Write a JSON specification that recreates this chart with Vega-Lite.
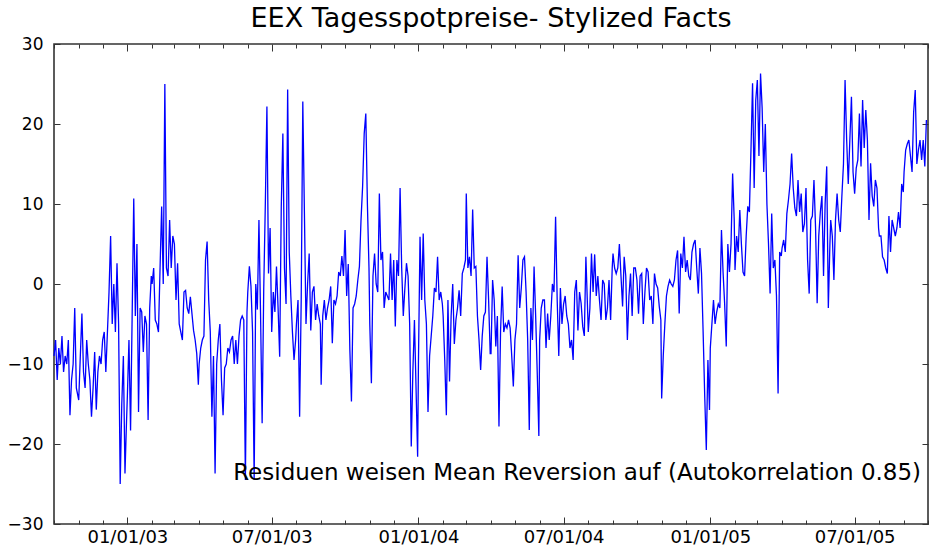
{
"$schema": "https://vega.github.io/schema/vega-lite/v6.json",
"width": 874, "height": 480,
"autosize": {"type": "none"},
"padding": {"left": 54, "top": 44, "right": 2, "bottom": 22},
"background": "white",
"title": {"text": "EEX Tagesspotpreise- Stylized Facts", "font": "DejaVu Sans", "fontSize": 27, "fontWeight": "normal", "color": "black", "offset": 2, "anchor": "middle"},
"config": {"view": {"stroke": "#333333", "strokeWidth": 1.6}, "axis": {"domain": false, "grid": false, "labelFont": "DejaVu Sans", "labelFontSize": 17, "labelColor": "black", "tickColor": "#333333", "tickWidth": 1}},
"datasets": {
"note": [{"d": "2004-07-18", "v": -23.6, "t": "Residuen weisen Mean Reversion auf (Autokorrelation 0.85)"}],
"s": [
{"d":"2002-10-01","v":-9},{"d":"2002-10-03","v":-7},{"d":"2002-10-05","v":-12},{"d":"2002-10-07","v":-8},{"d":"2002-10-09","v":-10},{"d":"2002-10-11","v":-6.5},{"d":"2002-10-13","v":-11},{"d":"2002-10-15","v":-9},{"d":"2002-10-17","v":-10},{"d":"2002-10-19","v":-7},{"d":"2002-10-21","v":-16.4},{"d":"2002-10-23","v":-12},{"d":"2002-10-25","v":-10},{"d":"2002-10-27","v":-3},{"d":"2002-10-29","v":-13},{"d":"2002-10-31","v":-14},
{"d":"2002-11-01","v":-14.5},{"d":"2002-11-03","v":-9},{"d":"2002-11-05","v":-3.7},{"d":"2002-11-07","v":-11},{"d":"2002-11-09","v":-13},{"d":"2002-11-11","v":-7},{"d":"2002-11-13","v":-10},{"d":"2002-11-15","v":-12},{"d":"2002-11-17","v":-16.6},{"d":"2002-11-19","v":-13},{"d":"2002-11-21","v":-8.5},{"d":"2002-11-23","v":-15.7},{"d":"2002-11-25","v":-11},{"d":"2002-11-27","v":-9},{"d":"2002-11-29","v":-10},
{"d":"2002-12-01","v":-7},{"d":"2002-12-03","v":-6},{"d":"2002-12-05","v":-11},{"d":"2002-12-07","v":-6},{"d":"2002-12-09","v":-1},{"d":"2002-12-11","v":6},{"d":"2002-12-13","v":-5},{"d":"2002-12-15","v":0},{"d":"2002-12-17","v":-6},{"d":"2002-12-19","v":2.6},{"d":"2002-12-21","v":-5},{"d":"2002-12-23","v":-25},{"d":"2002-12-25","v":-15},{"d":"2002-12-27","v":-9},{"d":"2002-12-29","v":-23.7},{"d":"2002-12-31","v":-17},
{"d":"2003-01-01","v":-14},{"d":"2003-01-03","v":-7},{"d":"2003-01-05","v":-18.3},{"d":"2003-01-07","v":-4},{"d":"2003-01-09","v":10.7},{"d":"2003-01-11","v":-4},{"d":"2003-01-13","v":5},{"d":"2003-01-15","v":-16},{"d":"2003-01-17","v":-3},{"d":"2003-01-19","v":-3.5},{"d":"2003-01-21","v":-8.5},{"d":"2003-01-23","v":-4},{"d":"2003-01-25","v":-5},{"d":"2003-01-27","v":-17},{"d":"2003-01-29","v":-3},{"d":"2003-01-31","v":1},
{"d":"2003-02-01","v":0},{"d":"2003-02-03","v":2},{"d":"2003-02-05","v":-4.5},{"d":"2003-02-07","v":-5},{"d":"2003-02-09","v":-6},{"d":"2003-02-11","v":2},{"d":"2003-02-13","v":9.7},{"d":"2003-02-15","v":0},{"d":"2003-02-17","v":25},{"d":"2003-02-19","v":2},{"d":"2003-02-21","v":1},{"d":"2003-02-23","v":8},{"d":"2003-02-25","v":2},{"d":"2003-02-27","v":6},
{"d":"2003-03-01","v":5},{"d":"2003-03-03","v":-2},{"d":"2003-03-05","v":2.6},{"d":"2003-03-07","v":-5},{"d":"2003-03-09","v":-6},{"d":"2003-03-11","v":-7},{"d":"2003-03-13","v":-1},{"d":"2003-03-15","v":-0.8},{"d":"2003-03-17","v":-3},{"d":"2003-03-19","v":-3.7},{"d":"2003-03-21","v":-1.6},{"d":"2003-03-23","v":-3.7},{"d":"2003-03-25","v":-5.8},{"d":"2003-03-27","v":-7},{"d":"2003-03-29","v":-8.7},{"d":"2003-03-31","v":-12.6},
{"d":"2003-04-01","v":-10},{"d":"2003-04-03","v":-8},{"d":"2003-04-05","v":-7},{"d":"2003-04-07","v":-6.5},{"d":"2003-04-09","v":3},{"d":"2003-04-11","v":5.3},{"d":"2003-04-13","v":-2},{"d":"2003-04-15","v":-6},{"d":"2003-04-17","v":-16.6},{"d":"2003-04-19","v":-9},{"d":"2003-04-21","v":-23.7},{"d":"2003-04-23","v":-10},{"d":"2003-04-25","v":-7},{"d":"2003-04-27","v":-5},{"d":"2003-04-29","v":-12},
{"d":"2003-05-01","v":-16.4},{"d":"2003-05-03","v":-10.5},{"d":"2003-05-05","v":-10},{"d":"2003-05-07","v":-8},{"d":"2003-05-09","v":-8.5},{"d":"2003-05-11","v":-7},{"d":"2003-05-13","v":-6.5},{"d":"2003-05-15","v":-10},{"d":"2003-05-17","v":-7},{"d":"2003-05-19","v":-10},{"d":"2003-05-21","v":-6.5},{"d":"2003-05-23","v":-4.5},{"d":"2003-05-25","v":-4},{"d":"2003-05-27","v":-4.5},{"d":"2003-05-29","v":-24.5},{"d":"2003-05-31","v":-3.5},
{"d":"2003-06-01","v":-1},{"d":"2003-06-03","v":2.2},{"d":"2003-06-05","v":-0.3},{"d":"2003-06-07","v":-6},{"d":"2003-06-09","v":-24.5},{"d":"2003-06-11","v":0},{"d":"2003-06-13","v":-3.2},{"d":"2003-06-15","v":8},{"d":"2003-06-17","v":-3.7},{"d":"2003-06-19","v":-17.4},{"d":"2003-06-21","v":-0.7},{"d":"2003-06-23","v":10},{"d":"2003-06-25","v":22.2},{"d":"2003-06-27","v":1.3},{"d":"2003-06-29","v":7},
{"d":"2003-07-01","v":-6},{"d":"2003-07-03","v":-1},{"d":"2003-07-05","v":-3.5},{"d":"2003-07-07","v":2.2},{"d":"2003-07-09","v":-3},{"d":"2003-07-11","v":-9.1},{"d":"2003-07-13","v":9.7},{"d":"2003-07-15","v":18.8},{"d":"2003-07-17","v":2},{"d":"2003-07-19","v":-2.5},{"d":"2003-07-21","v":24.3},{"d":"2003-07-23","v":4},{"d":"2003-07-25","v":-1.5},{"d":"2003-07-27","v":-6},{"d":"2003-07-29","v":-9.5},{"d":"2003-07-31","v":-7},
{"d":"2003-08-01","v":-5},{"d":"2003-08-03","v":-2},{"d":"2003-08-05","v":-16.6},{"d":"2003-08-07","v":-2},{"d":"2003-08-09","v":22.8},{"d":"2003-08-11","v":9},{"d":"2003-08-13","v":-5},{"d":"2003-08-15","v":0},{"d":"2003-08-17","v":3.8},{"d":"2003-08-19","v":-5.8},{"d":"2003-08-21","v":-1},{"d":"2003-08-23","v":-0.3},{"d":"2003-08-25","v":-4.5},{"d":"2003-08-27","v":-2.5},{"d":"2003-08-29","v":-4},{"d":"2003-08-31","v":-5},
{"d":"2003-09-01","v":-12.6},{"d":"2003-09-03","v":-4},{"d":"2003-09-05","v":-2},{"d":"2003-09-07","v":-4.5},{"d":"2003-09-09","v":-3},{"d":"2003-09-11","v":-2},{"d":"2003-09-13","v":-0.3},{"d":"2003-09-15","v":-7.4},{"d":"2003-09-17","v":-2},{"d":"2003-09-19","v":-2.5},{"d":"2003-09-21","v":-1.5},{"d":"2003-09-23","v":1.5},{"d":"2003-09-25","v":1},{"d":"2003-09-27","v":3.5},{"d":"2003-09-29","v":1},
{"d":"2003-10-01","v":6.75},{"d":"2003-10-03","v":-1.5},{"d":"2003-10-05","v":2.5},{"d":"2003-10-07","v":-8.2},{"d":"2003-10-09","v":-14.7},{"d":"2003-10-11","v":-3},{"d":"2003-10-13","v":-2.5},{"d":"2003-10-15","v":-1.5},{"d":"2003-10-17","v":0.5},{"d":"2003-10-19","v":2.2},{"d":"2003-10-21","v":8},{"d":"2003-10-23","v":12.2},{"d":"2003-10-25","v":18.8},{"d":"2003-10-27","v":21.3},{"d":"2003-10-29","v":10},{"d":"2003-10-31","v":2},
{"d":"2003-11-01","v":-5},{"d":"2003-11-03","v":-12.4},{"d":"2003-11-05","v":1},{"d":"2003-11-07","v":3.8},{"d":"2003-11-09","v":0},{"d":"2003-11-11","v":-1},{"d":"2003-11-13","v":11.3},{"d":"2003-11-15","v":3},{"d":"2003-11-17","v":4},{"d":"2003-11-19","v":-3},{"d":"2003-11-21","v":-1},{"d":"2003-11-23","v":-1.5},{"d":"2003-11-25","v":-2},{"d":"2003-11-27","v":3.8},{"d":"2003-11-29","v":-2},
{"d":"2003-12-01","v":3},{"d":"2003-12-03","v":-5.3},{"d":"2003-12-05","v":3},{"d":"2003-12-07","v":1},{"d":"2003-12-09","v":12},{"d":"2003-12-11","v":2},{"d":"2003-12-13","v":-4},{"d":"2003-12-15","v":-0.5},{"d":"2003-12-17","v":2.6},{"d":"2003-12-19","v":1},{"d":"2003-12-21","v":-5},{"d":"2003-12-23","v":-20.3},{"d":"2003-12-25","v":-11},{"d":"2003-12-27","v":-4.5},{"d":"2003-12-29","v":-13},{"d":"2003-12-31","v":-21.6},
{"d":"2004-01-01","v":-10},{"d":"2004-01-03","v":5.9},{"d":"2004-01-05","v":-2},{"d":"2004-01-07","v":6.3},{"d":"2004-01-09","v":-2},{"d":"2004-01-11","v":-5},{"d":"2004-01-13","v":-16},{"d":"2004-01-15","v":-9},{"d":"2004-01-17","v":-6.5},{"d":"2004-01-19","v":-4},{"d":"2004-01-21","v":-0.5},{"d":"2004-01-23","v":-1},{"d":"2004-01-25","v":3.4},{"d":"2004-01-27","v":-2},{"d":"2004-01-29","v":-1},{"d":"2004-01-31","v":-2.5},
{"d":"2004-02-01","v":-4},{"d":"2004-02-03","v":-9.5},{"d":"2004-02-05","v":-16.4},{"d":"2004-02-07","v":-2},{"d":"2004-02-09","v":-12.2},{"d":"2004-02-11","v":-4},{"d":"2004-02-13","v":0},{"d":"2004-02-15","v":-7.5},{"d":"2004-02-17","v":-4.5},{"d":"2004-02-19","v":-3},{"d":"2004-02-21","v":-0.8},{"d":"2004-02-23","v":-4},{"d":"2004-02-25","v":1.3},{"d":"2004-02-27","v":2},{"d":"2004-02-29","v":3},
{"d":"2004-03-01","v":11.3},{"d":"2004-03-03","v":2},{"d":"2004-03-05","v":3.4},{"d":"2004-03-07","v":1},{"d":"2004-03-09","v":9.3},{"d":"2004-03-11","v":2},{"d":"2004-03-13","v":2.2},{"d":"2004-03-15","v":-4},{"d":"2004-03-17","v":-7},{"d":"2004-03-19","v":-10.75},{"d":"2004-03-21","v":-6.5},{"d":"2004-03-23","v":-4},{"d":"2004-03-25","v":-3.5},{"d":"2004-03-27","v":3.4},{"d":"2004-03-29","v":-2},{"d":"2004-03-31","v":-8.7},
{"d":"2004-04-01","v":-8.7},{"d":"2004-04-03","v":0.5},{"d":"2004-04-05","v":-2},{"d":"2004-04-07","v":-7.8},{"d":"2004-04-09","v":-4},{"d":"2004-04-11","v":-17.8},{"d":"2004-04-13","v":-5.8},{"d":"2004-04-15","v":-0.3},{"d":"2004-04-17","v":-6},{"d":"2004-04-19","v":-5},{"d":"2004-04-21","v":-5.5},{"d":"2004-04-23","v":-4.5},{"d":"2004-04-25","v":-5.5},{"d":"2004-04-27","v":-9},{"d":"2004-04-29","v":-12.8},
{"d":"2004-05-01","v":-7},{"d":"2004-05-03","v":-5},{"d":"2004-05-05","v":3.6},{"d":"2004-05-07","v":-3},{"d":"2004-05-09","v":-0.5},{"d":"2004-05-11","v":3},{"d":"2004-05-13","v":3.4},{"d":"2004-05-15","v":-1},{"d":"2004-05-17","v":-7},{"d":"2004-05-19","v":-18.25},{"d":"2004-05-21","v":-3},{"d":"2004-05-23","v":-7},{"d":"2004-05-25","v":2.2},{"d":"2004-05-27","v":-4},{"d":"2004-05-29","v":-11.2},{"d":"2004-05-31","v":-19},
{"d":"2004-06-01","v":-7},{"d":"2004-06-03","v":-3},{"d":"2004-06-05","v":-2},{"d":"2004-06-07","v":-2},{"d":"2004-06-09","v":-8},{"d":"2004-06-11","v":-3.7},{"d":"2004-06-13","v":-7},{"d":"2004-06-15","v":-4},{"d":"2004-06-17","v":0},{"d":"2004-06-19","v":-1},{"d":"2004-06-21","v":8.4},{"d":"2004-06-23","v":-2},{"d":"2004-06-25","v":-9},{"d":"2004-06-27","v":-0.5},{"d":"2004-06-29","v":-5},
{"d":"2004-07-01","v":-2.5},{"d":"2004-07-03","v":-1.5},{"d":"2004-07-05","v":-4},{"d":"2004-07-07","v":-5},{"d":"2004-07-09","v":-8},{"d":"2004-07-11","v":-7},{"d":"2004-07-13","v":-9.5},{"d":"2004-07-15","v":-1},{"d":"2004-07-17","v":0.5},{"d":"2004-07-19","v":-5.8},{"d":"2004-07-21","v":-1},{"d":"2004-07-23","v":-2.4},{"d":"2004-07-25","v":-5.3},{"d":"2004-07-27","v":-6.5},{"d":"2004-07-29","v":3.4},{"d":"2004-07-31","v":-2.8},
{"d":"2004-08-01","v":-6},{"d":"2004-08-03","v":-3},{"d":"2004-08-05","v":3.8},{"d":"2004-08-07","v":-1},{"d":"2004-08-09","v":3.7},{"d":"2004-08-11","v":-1.5},{"d":"2004-08-13","v":1},{"d":"2004-08-15","v":-2},{"d":"2004-08-17","v":-4.5},{"d":"2004-08-19","v":0.5},{"d":"2004-08-21","v":0},{"d":"2004-08-23","v":-4.5},{"d":"2004-08-25","v":-3},{"d":"2004-08-27","v":0.5},{"d":"2004-08-29","v":-4.5},{"d":"2004-08-31","v":2},
{"d":"2004-09-01","v":3.8},{"d":"2004-09-03","v":2},{"d":"2004-09-05","v":1.3},{"d":"2004-09-07","v":2},{"d":"2004-09-09","v":5},{"d":"2004-09-11","v":1},{"d":"2004-09-13","v":-2.8},{"d":"2004-09-15","v":3.4},{"d":"2004-09-17","v":1},{"d":"2004-09-19","v":-7},{"d":"2004-09-21","v":-1.5},{"d":"2004-09-23","v":1.3},{"d":"2004-09-25","v":-4},{"d":"2004-09-27","v":2},{"d":"2004-09-29","v":2},
{"d":"2004-10-01","v":0.5},{"d":"2004-10-03","v":-3.7},{"d":"2004-10-05","v":1},{"d":"2004-10-07","v":1.3},{"d":"2004-10-09","v":-5},{"d":"2004-10-11","v":-1},{"d":"2004-10-13","v":2},{"d":"2004-10-15","v":1.5},{"d":"2004-10-17","v":-2},{"d":"2004-10-19","v":-1.5},{"d":"2004-10-21","v":-5},{"d":"2004-10-23","v":1.3},{"d":"2004-10-25","v":0},{"d":"2004-10-27","v":-0.5},{"d":"2004-10-29","v":-2.8},{"d":"2004-10-31","v":-4.5},
{"d":"2004-11-01","v":-14.3},{"d":"2004-11-03","v":-9},{"d":"2004-11-05","v":-5},{"d":"2004-11-07","v":-1.5},{"d":"2004-11-09","v":-0.3},{"d":"2004-11-11","v":0.5},{"d":"2004-11-13","v":0},{"d":"2004-11-15","v":-0.3},{"d":"2004-11-17","v":0.5},{"d":"2004-11-19","v":3},{"d":"2004-11-21","v":4.2},{"d":"2004-11-23","v":-3.7},{"d":"2004-11-25","v":3.8},{"d":"2004-11-27","v":2},{"d":"2004-11-29","v":5.9},
{"d":"2004-12-01","v":1.5},{"d":"2004-12-03","v":3},{"d":"2004-12-05","v":1},{"d":"2004-12-07","v":0.5},{"d":"2004-12-09","v":4},{"d":"2004-12-11","v":5},{"d":"2004-12-13","v":5.5},{"d":"2004-12-15","v":2},{"d":"2004-12-17","v":-1.2},{"d":"2004-12-19","v":4.5},{"d":"2004-12-21","v":1.3},{"d":"2004-12-23","v":-6},{"d":"2004-12-25","v":-14},{"d":"2004-12-27","v":-20.75},{"d":"2004-12-29","v":-9.5},{"d":"2004-12-31","v":-15.75},
{"d":"2005-01-01","v":-8},{"d":"2005-01-03","v":-5},{"d":"2005-01-05","v":-2},{"d":"2005-01-07","v":-5},{"d":"2005-01-09","v":-3.5},{"d":"2005-01-11","v":-2.5},{"d":"2005-01-13","v":-3},{"d":"2005-01-15","v":6.75},{"d":"2005-01-17","v":1.5},{"d":"2005-01-19","v":-2.5},{"d":"2005-01-21","v":-7.8},{"d":"2005-01-23","v":5},{"d":"2005-01-25","v":1.5},{"d":"2005-01-27","v":5},{"d":"2005-01-29","v":13.8},{"d":"2005-01-31","v":8},
{"d":"2005-02-01","v":1.75},{"d":"2005-02-03","v":6},{"d":"2005-02-05","v":4},{"d":"2005-02-07","v":9.25},{"d":"2005-02-09","v":5},{"d":"2005-02-11","v":1.5},{"d":"2005-02-13","v":1},{"d":"2005-02-15","v":6},{"d":"2005-02-17","v":9.7},{"d":"2005-02-19","v":9},{"d":"2005-02-21","v":16.75},{"d":"2005-02-23","v":25.1},{"d":"2005-02-25","v":12},{"d":"2005-02-27","v":23},
{"d":"2005-03-01","v":25.5},{"d":"2005-03-03","v":16},{"d":"2005-03-05","v":26.3},{"d":"2005-03-07","v":22},{"d":"2005-03-09","v":14},{"d":"2005-03-11","v":20},{"d":"2005-03-13","v":10},{"d":"2005-03-15","v":5},{"d":"2005-03-17","v":-1.2},{"d":"2005-03-19","v":8.8},{"d":"2005-03-21","v":2},{"d":"2005-03-23","v":3},{"d":"2005-03-25","v":-1.5},{"d":"2005-03-27","v":-13.7},{"d":"2005-03-29","v":4},{"d":"2005-03-31","v":3.5},
{"d":"2005-04-01","v":4.5},{"d":"2005-04-03","v":5.5},{"d":"2005-04-05","v":4},{"d":"2005-04-07","v":8.8},{"d":"2005-04-09","v":10.5},{"d":"2005-04-11","v":12.5},{"d":"2005-04-13","v":16.3},{"d":"2005-04-15","v":12},{"d":"2005-04-17","v":9.5},{"d":"2005-04-19","v":8.5},{"d":"2005-04-21","v":13},{"d":"2005-04-23","v":9},{"d":"2005-04-25","v":11.3},{"d":"2005-04-27","v":6.5},{"d":"2005-04-29","v":7.5},
{"d":"2005-05-01","v":12},{"d":"2005-05-03","v":3},{"d":"2005-05-05","v":-1.2},{"d":"2005-05-07","v":8},{"d":"2005-05-09","v":8.5},{"d":"2005-05-11","v":13},{"d":"2005-05-13","v":7},{"d":"2005-05-15","v":-2.4},{"d":"2005-05-17","v":6},{"d":"2005-05-19","v":9},{"d":"2005-05-21","v":11},{"d":"2005-05-23","v":1},{"d":"2005-05-25","v":10},{"d":"2005-05-27","v":14.7},{"d":"2005-05-29","v":-3},{"d":"2005-05-31","v":5},
{"d":"2005-06-01","v":8},{"d":"2005-06-03","v":6},{"d":"2005-06-05","v":0.5},{"d":"2005-06-07","v":8},{"d":"2005-06-09","v":11.3},{"d":"2005-06-11","v":8},{"d":"2005-06-13","v":6.5},{"d":"2005-06-15","v":11},{"d":"2005-06-17","v":15},{"d":"2005-06-19","v":25.5},{"d":"2005-06-21","v":18},{"d":"2005-06-23","v":12.5},{"d":"2005-06-25","v":18},{"d":"2005-06-27","v":23.4},{"d":"2005-06-29","v":14},
{"d":"2005-07-01","v":11.3},{"d":"2005-07-03","v":14.5},{"d":"2005-07-05","v":15.5},{"d":"2005-07-07","v":21.3},{"d":"2005-07-09","v":14.7},{"d":"2005-07-11","v":23},{"d":"2005-07-13","v":17},{"d":"2005-07-15","v":21.75},{"d":"2005-07-17","v":18},{"d":"2005-07-19","v":8},{"d":"2005-07-21","v":15.1},{"d":"2005-07-23","v":11},{"d":"2005-07-25","v":9.7},{"d":"2005-07-27","v":13},{"d":"2005-07-29","v":12},{"d":"2005-07-31","v":7},
{"d":"2005-08-01","v":6},{"d":"2005-08-03","v":6},{"d":"2005-08-05","v":3.4},{"d":"2005-08-07","v":3},{"d":"2005-08-09","v":2},{"d":"2005-08-11","v":1.3},{"d":"2005-08-13","v":8.5},{"d":"2005-08-15","v":4},{"d":"2005-08-17","v":8},{"d":"2005-08-19","v":7},{"d":"2005-08-21","v":6},{"d":"2005-08-23","v":7},{"d":"2005-08-25","v":9},{"d":"2005-08-27","v":7},{"d":"2005-08-29","v":12.5},{"d":"2005-08-31","v":11.5},
{"d":"2005-09-01","v":14},{"d":"2005-09-03","v":16.75},{"d":"2005-09-05","v":17.5},{"d":"2005-09-07","v":18},{"d":"2005-09-09","v":16},{"d":"2005-09-11","v":14},{"d":"2005-09-13","v":21.5},{"d":"2005-09-15","v":24.25},{"d":"2005-09-17","v":15},{"d":"2005-09-19","v":16.75},{"d":"2005-09-21","v":18},{"d":"2005-09-23","v":15.5},{"d":"2005-09-25","v":18},{"d":"2005-09-27","v":14.7},{"d":"2005-09-29","v":20.5}
]},
"layer": [
{"data": {"name": "s"},
 "mark": {"type": "line", "color": "#0000ff", "strokeWidth": 1.3},
 "encoding": {
  "x": {"field": "d", "type": "temporal",
   "scale": {"type": "utc", "domain": [{"year": 2002, "month": 10, "date": 1, "utc": true}, {"year": 2005, "month": 10, "date": 1, "utc": true}]},
   "axis": {"orient": "bottom", "title": null, "tickCount": {"interval": "month", "step": 1},
    "tickSize": {"condition": {"test": "utcmonth(datum.value) % 6 === 0", "value": -7}, "value": -4},
    "labelExpr": "utcmonth(datum.value) % 6 === 0 ? utcFormat(datum.value, '%m/%d/%y') : ''",
    "labelFontSize": 18, "labelPadding": 11, "labelOverlap": false, "labelFlush": false}},
  "y": {"field": "v", "type": "quantitative",
   "scale": {"domain": [-30, 30], "nice": false, "zero": false},
   "axis": {"orient": "left", "title": null, "values": [-30, -20, -10, 0, 10, 20, 30], "tickSize": -6, "labelPadding": 17}}
 }},
{"data": {"name": "note"},
 "mark": {"type": "text", "font": "DejaVu Sans", "fontSize": 23, "align": "center", "baseline": "middle", "color": "black"},
 "encoding": {
  "x": {"field": "d", "type": "temporal",
   "axis": {"orient": "top", "title": null, "labels": false, "tickCount": {"interval": "month", "step": 1},
    "tickSize": {"condition": {"test": "utcmonth(datum.value) % 6 === 0", "value": -7}, "value": -4}}},
  "y": {"field": "v", "type": "quantitative",
   "axis": {"orient": "right", "title": null, "labels": false, "values": [-30, -20, -10, 0, 10, 20, 30], "tickSize": -6}},
  "text": {"field": "t"}
 }}
],
"resolve": {"axis": {"x": "independent", "y": "independent"}}
}
